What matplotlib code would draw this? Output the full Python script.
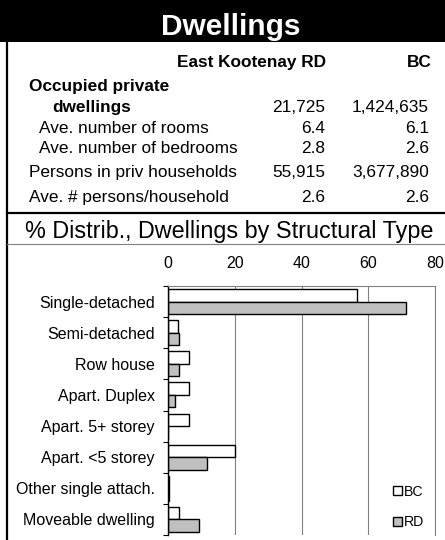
import matplotlib
matplotlib.use("Agg")
import matplotlib.pyplot as plt
from matplotlib.patches import Rectangle
from matplotlib.lines import Line2D

plt.rcParams['font.family'] = ['Liberation Sans', 'DejaVu Sans']

W, H = 445, 540

# table values
col_heads = ["East Kootenay RD", "BC"]
row_labels = ["Ave. number of rooms", "Ave. number of bedrooms",
              "Persons in priv households", "Ave. # persons/household"]
rd_vals = ["21,725", "6.4", "2.8", "55,915", "2.6"]
bc_vals = ["1,424,635", "6.1", "2.6", "3,677,890", "2.6"]

# chart values (%)
categories = ["Single-detached", "Semi-detached", "Row house", "Apart. Duplex",
              "Apart. 5+ storey", "Apart. <5 storey", "Other single attach.",
              "Moveable dwelling"]
bc_pct = [56.5, 3.0, 6.3, 6.3, 6.3, 20.0, 0.2, 3.2]
rd_pct = [71.2, 3.3, 3.3, 2.0, 0.0, 11.8, 0.3, 9.3]
x_ticks = [0, 20, 40, 60, 80]


def fx(x):
    return x / W


def fy(y):
    return 1 - y / H


fig = plt.figure(figsize=(W / 100, H / 100), dpi=100)

# title bar and frame lines
fig.patches.append(Rectangle((0, fy(42)), 1, 42 / H, transform=fig.transFigure,
                             facecolor="black", edgecolor="none"))
fig.lines.append(Line2D([fx(7), fx(7)], [fy(42), 0], transform=fig.transFigure,
                        color="black", lw=1.6))
fig.lines.append(Line2D([fx(7), 1], [fy(213), fy(213)], transform=fig.transFigure,
                        color="black", lw=1.6))
fig.lines.append(Line2D([fx(7), 1], [fy(244), fy(244)], transform=fig.transFigure,
                        color="#808080", lw=0.8))

fig.text(fx(231), fy(35), "Dwellings", color="white", fontsize=21.5,
         fontweight="bold", ha="center", va="baseline")

fs = 12.4
fig.text(fx(326), fy(67), col_heads[0], fontsize=fs, fontweight="bold",
         ha="right", va="baseline")
fig.text(fx(432), fy(67), col_heads[1], fontsize=fs, fontweight="bold",
         ha="right", va="baseline")

fig.text(fx(29), fy(91), "Occupied private", fontsize=fs, fontweight="bold",
         va="baseline")
fig.text(fx(52), fy(112), "dwellings", fontsize=fs, fontweight="bold",
         va="baseline")

baselines = [112, 133, 153, 177, 202]
lefts = [39, 39, 29, 29]
for lab, x, y in zip(row_labels, lefts, baselines[1:]):
    fig.text(fx(x), fy(y), lab, fontsize=fs, va="baseline")
for v1, v2, y in zip(rd_vals, bc_vals, baselines):
    fig.text(fx(325), fy(y), v1, fontsize=fs, ha="right", va="baseline")
    fig.text(fx(429), fy(y), v2, fontsize=fs, ha="right", va="baseline")

fig.text(fx(229), fy(238), "% Distrib., Dwellings by Structural Type",
         fontsize=16.8, ha="center", va="baseline")

# bar chart
ax = fig.add_axes([fx(168), fy(535), (435 - 168) / W, (535 - 286) / H])
ypos = list(range(len(categories)))
bars_bc = ax.barh([y - 0.2 for y in ypos], bc_pct, height=0.4, color="white",
                  edgecolor="black", linewidth=1.0, label="BC")
bars_rd = ax.barh([y + 0.2 for y in ypos], rd_pct, height=0.4, color="#c0c0c0",
                  edgecolor="black", linewidth=1.0, label="RD")

ax.set_xlim(0, 80)
ax.set_ylim(7.5, -0.5)
ax.xaxis.tick_top()
ax.set_xticks(x_ticks)
ax.tick_params(axis="x", length=0, pad=11, labelsize=11.5)
ax.set_yticks(ypos)
ax.set_yticklabels(categories)
ax.set_yticks([y - 0.5 for y in range(len(categories) + 1)], minor=True)
ax.tick_params(axis="y", which="major", length=0, pad=9.5, labelsize=11.5)
ax.tick_params(axis="y", which="minor", length=3.6, width=0.8, direction="out",
               color="black")
ax.set_axisbelow(True)
ax.grid(axis="x", color="#808080", lw=0.8)
ax.spines["bottom"].set_visible(False)
ax.spines["left"].set_color("black")
ax.spines["left"].set_linewidth(1.0)
for s in ["top", "right"]:
    ax.spines[s].set_color("#808080")
    ax.spines[s].set_linewidth(0.8)

leg = ax.legend(handles=[bars_bc, bars_rd], loc="center left",
                bbox_to_anchor=(fx(384), fy(507)), bbox_transform=fig.transFigure,
                fontsize=10.2, frameon=True, fancybox=False, edgecolor="none",
                facecolor="white", framealpha=1, borderpad=0.6, borderaxespad=0,
                handlelength=0.65, handleheight=0.65, handletextpad=0.15,
                labelspacing=1.2)

fig.savefig("out.png", dpi=100)
